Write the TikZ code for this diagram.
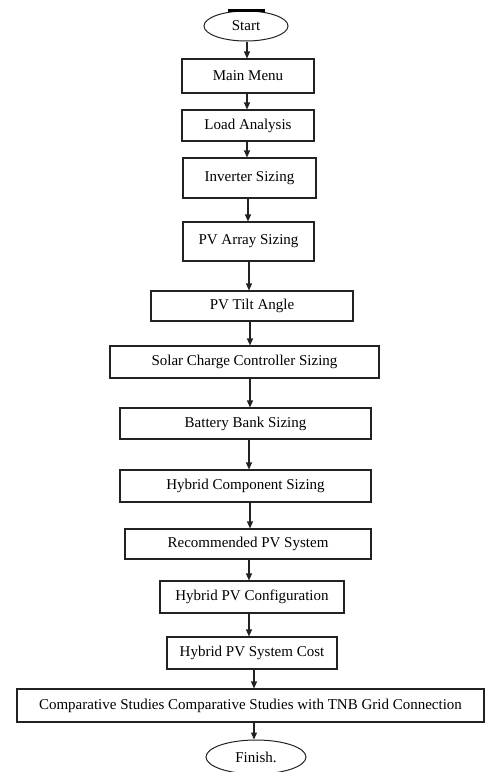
\documentclass[tikz,border=0pt]{standalone}
\usepackage{fontspec}
\setmainfont{Liberation Serif}
\usetikzlibrary{arrows.meta,shapes.geometric}
\definecolor{ln}{HTML}{222222}
\begin{document}
\begin{tikzpicture}[x=1pt,y=-1pt,
  every node/.style={font=\fontsize{15}{18}\selectfont},
  box/.style={draw=ln, line width=1.1pt, rectangle, inner sep=0pt, anchor=center},
  term/.style={draw=ln, line width=1pt, ellipse, inner sep=0pt, anchor=center},
  arr/.style={draw=ln, line width=1.1pt, -{Triangle[length=7pt,width=6pt]}}]
\useasboundingbox (0,0) rectangle (485,772);
\node[term, minimum width=84pt, minimum height=30pt] (start) at (246,26) {Start};
\draw[line width=2.2pt] (228,10.5) -- (265,10.5);
\node[box, minimum width=132pt, minimum height=34pt] (n1) at (248,76) {Main Menu};
\node[box, minimum width=132pt, minimum height=31pt] (n2) at (248,125.5) {Load Analysis};
\node[box, minimum width=133pt, minimum height=40pt] (n3) at (249.5,178) {Inverter Sizing};
\node[box, minimum width=131pt, minimum height=39pt] (n4) at (248.5,241.5) {PV Array Sizing};
\node[box, minimum width=202pt, minimum height=30pt] (n5) at (252,306) {PV Tilt Angle};
\node[box, minimum width=269pt, minimum height=32pt] (n6) at (244.5,362) {Solar Charge Controller Sizing};
\node[box, minimum width=251pt, minimum height=31pt] (n7) at (245.5,423.5) {Battery Bank Sizing};
\node[box, minimum width=251pt, minimum height=32pt] (n8) at (245.5,486) {Hybrid Component Sizing};
\node[box, minimum width=246pt, minimum height=30pt] (n9) at (248,544) {Recommended PV System};
\node[box, minimum width=184pt, minimum height=32pt] (n10) at (252,597) {Hybrid PV Configuration};
\node[box, minimum width=170pt, minimum height=32pt] (n11) at (252,653) {Hybrid PV System Cost};
\node[box, minimum width=467pt, minimum height=33pt] (n12) at (250.5,705.5) {Comparative Studies Comparative Studies with TNB Grid Connection};
\node[term, minimum width=100pt, minimum height=34pt] (fin) at (256,757) {Finish.};
\draw[arr] (start.south -| 247,0) -- (n1.north -| 247,0);
\draw[arr] (n1.south -| 247,0) -- (n2.north -| 247,0);
\draw[arr] (n2.south -| 247,0) -- (n3.north -| 247,0);
\draw[arr] (n3.south -| 248,0) -- (n4.north -| 248,0);
\draw[arr] (n4.south -| 249,0) -- (n5.north -| 249,0);
\draw[arr] (n5.south -| 250,0) -- (n6.north -| 250,0);
\draw[arr] (n6.south -| 250,0) -- (n7.north -| 250,0);
\draw[arr] (n7.south -| 249,0) -- (n8.north -| 249,0);
\draw[arr] (n8.south -| 250,0) -- (n9.north -| 250,0);
\draw[arr] (n9.south -| 249,0) -- (n10.north -| 249,0);
\draw[arr] (n10.south -| 249,0) -- (n11.north -| 249,0);
\draw[arr] (n11.south -| 254,0) -- (n12.north -| 254,0);
\draw[arr] (n12.south -| 254,0) -- (fin.north -| 254,0);
\end{tikzpicture}
\end{document}
